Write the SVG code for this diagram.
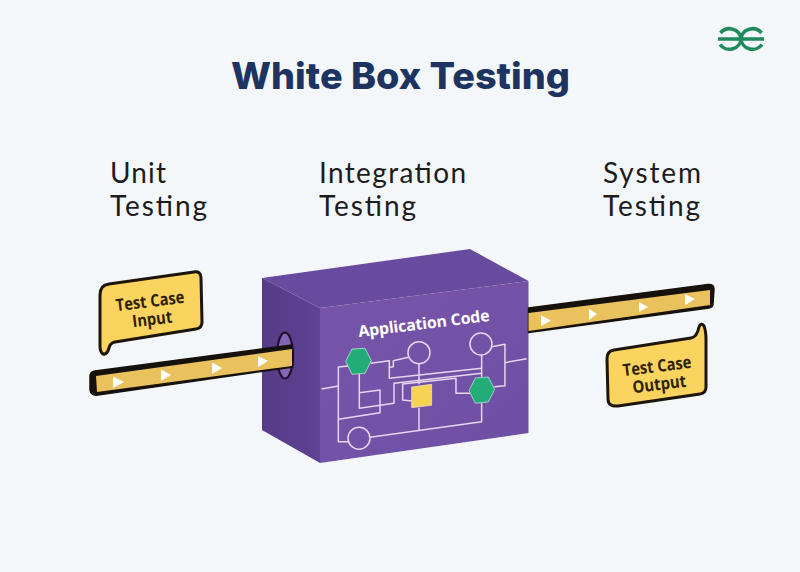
<svg xmlns="http://www.w3.org/2000/svg" width="800" height="572" viewBox="0 0 800 572">
<defs>
<linearGradient id="front" x1="0" y1="0" x2="1" y2="1"><stop offset="0" stop-color="#7655ab"/><stop offset="1" stop-color="#6f4fa4"/></linearGradient>
<linearGradient id="left" x1="0" y1="0" x2="1" y2="0"><stop offset="0" stop-color="#563b88"/><stop offset="1" stop-color="#5f4394"/></linearGradient>
</defs>
<style>
.title{font:800 37px Inter,"Liberation Sans",sans-serif;fill:#1d3461}
.lab{font:400 28px Lato,"Open Sans",sans-serif;fill:#1c1c1c}
.bub{fill:#fbd35f;stroke:#1d1608;stroke-width:3;stroke-linejoin:round}
.bt{font:700 17px "Open Sans","Liberation Sans",sans-serif;fill:#2b2208;text-anchor:middle}
.tri{fill:#fff}
.pipeo{fill:#17110c;stroke:#17110c;stroke-width:1.5;stroke-linejoin:round}
.pipei{fill:#e9c25e}
.wire{fill:none;stroke:#e6d6f0;stroke-width:4.5;stroke-linejoin:round}
.hex{fill:#22ad78;stroke:#d5f2e6;stroke-width:2}
.logo{fill:none;stroke:#1f8a5b;stroke-width:3.6}
</style>
<rect width="800" height="572" fill="#f4f7fa"/>
<g id="logo" class="logo">
<path d="M718 39H741M720.500 33A11.500 11 0 0 1 741 38.500A11.500 11 0 0 1 720 44.500"/>
<path d="M764 39H741M761.500 33A11.500 11 0 0 0 741 38.500A11.500 11 0 0 0 762 44.500"/>
</g>
<text class="title" x="231" y="89" textLength="339" lengthAdjust="spacingAndGlyphs">White Box Testing</text>
<g id="label-unit"><text class="lab" x="110" y="183" textLength="56">Unit</text><text class="lab" x="110" y="216" textLength="97">Testing</text></g>
<g id="label-integration"><text class="lab" x="319" y="183" textLength="147">Integration</text><text class="lab" x="319" y="216" textLength="97">Testing</text></g>
<g id="label-system"><text class="lab" x="603" y="183" textLength="98">System</text><text class="lab" x="603" y="216" textLength="97">Testing</text></g>
<g id="box">
<polygon points="262,278 470,249 528.500,281 320,308" fill="#684a9f"/>
<polygon points="262,278 320,308 320,463 262,430" fill="url(#left)"/>
<polygon points="320,308 528.500,281 528.500,433 320,463" fill="url(#front)"/>
<ellipse cx="285" cy="355.500" rx="8" ry="23" fill="#8465b8" stroke="#1b1025" stroke-width="2.200"/>
<text x="424.500" y="329" transform="rotate(-7 424.500 329)" font-family="Open Sans, Liberation Sans, sans-serif" font-weight="700" font-size="16" fill="#fff" text-anchor="middle" textLength="132">Application Code</text>
</g>
<g id="circuit" transform="translate(250 240) scale(.3333)">
<path class="wire" d="M215 447L265 438M295 378L265 381V605H295"/>
<path class="wire" d="M362 370L418 362V415L695 385V410M695 345V385"/>
<path class="wire" d="M418 382L430 380V362L475 352"/>
<path class="wire" d="M507 372V433M507 503V570"/>
<path class="wire" d="M328 402V505L432 490V430L695 400"/>
<path class="wire" d="M328 458L390 450V518L265 538"/>
<path class="wire" d="M485 483L458 480V432L618 415V460H660"/>
<path class="wire" d="M695 490V545L360 592"/>
<path class="wire" d="M725 320L765 313V437L733 440M765 368L830 356"/>
<circle class="wire" cx="507" cy="338" r="33"/>
<circle class="wire" cx="693" cy="312" r="33"/>
<circle class="wire" cx="327" cy="595" r="33"/>
<polygon class="hex" points="287,364 306,327 345,325 364,362 345,400 306,403"/>
<polygon class="hex" points="657,452 676,414 715,411 734,448 715,486 676,490"/>
<polygon points="485,441 545,433 545,496 485,503" fill="#f8d253" stroke="#f3ecd0" stroke-width="2"/>
</g>
<g id="input-pipe">
<path class="pipeo" d="M95 371L292 345L293 367L98 395Q91 396 90 390L90 376Q90 372 95 371Z"/>
<polygon class="pipei" points="96,376 292,349 292,366 97,392"/>
<polygon class="tri" points="113,376.500 124,382 113,388"/>
<polygon class="tri" points="161,369.500 171,375 161,381"/>
<polygon class="tri" points="212,362.500 222,368 212,374"/>
<polygon class="tri" points="258,356 268,361 258,367"/>
</g>
<g id="output-pipe">
<path class="pipeo" d="M528.500 308L708 284.500Q714 284 714 289L713 304Q713 307 709 308L528.500 332.500Z"/>
<polygon class="pipei" points="528.500,313 710,290 710,305 528.500,331"/>
<polygon class="tri" points="541,315.500 551,320.500 541,326"/>
<polygon class="tri" points="589,309 597,314 589,320"/>
<polygon class="tri" points="639,302 648,307 639,312"/>
<polygon class="tri" points="685,294 695,299 685,305"/>
</g>
<g id="input-bubble">
<path class="bub" d="M109 284L194 272Q201 271 201 278L202 322Q202 328 196 329L115 342Q110 343 109 348Q107 355 103 354Q100 352 100 346L100 295Q100 285 109 284Z"/>
<g transform="rotate(-7 151 309)"><text class="bt" x="151" y="307" textLength="69" lengthAdjust="spacingAndGlyphs">Test Case</text><text class="bt" x="151" y="325" textLength="40" lengthAdjust="spacingAndGlyphs">Input</text></g>
</g>
<g id="output-bubble">
<path class="bub" d="M614 350L691 338Q697 337 699 327Q701 322 704 326Q706 331 706 340L706 387Q706 393 700 394L618 406Q608 407 608 399L607 359Q607 351 614 350Z"/>
<g transform="rotate(-7 658 374)"><text class="bt" x="658" y="372" textLength="69" lengthAdjust="spacingAndGlyphs">Test Case</text><text class="bt" x="658" y="390" textLength="54" lengthAdjust="spacingAndGlyphs">Output</text></g>
</g>
</svg>
